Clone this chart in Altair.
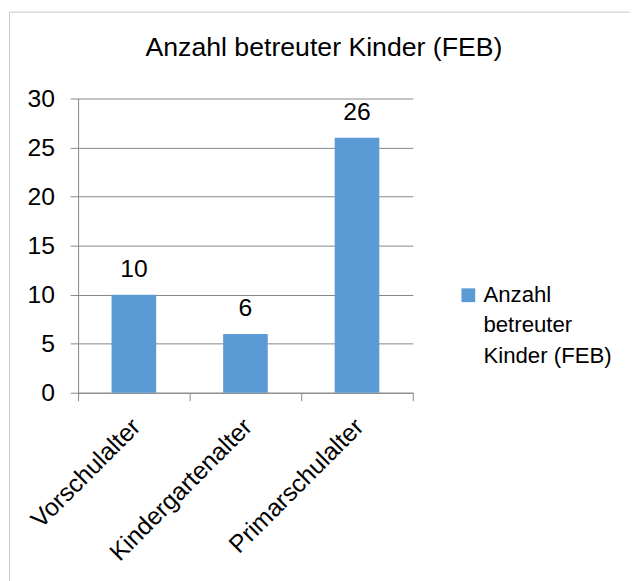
import altair as alt
import pandas as pd
import json

categories = ["Vorschulalter", "Kindergartenalter", "Primarschulalter"]
values = [10, 6, 26]
series_name = "Anzahl betreuter Kinder (FEB)"
legend_lines = ["Anzahl", "betreuter", "Kinder (FEB)"]
y_ticks = [0, 5, 10, 15, 20, 25, 30]

df = pd.DataFrame({"Kategorie": categories, "Wert": values, "Serie": [series_name] * len(categories)})

FONT = "Liberation Sans"
BLUE = "#5B9BD5"
GRAY = "#868686"

base = alt.Chart(df).encode(
    x=alt.X(
        "Kategorie:N",
        sort=categories,
        title=None,
        scale=alt.Scale(paddingInner=0, paddingOuter=0),
        axis=alt.Axis(
            labelAngle=315,
            labelAlign="right",
            labelBaseline="middle",
            labelPadding=22,
            labelOffset=2,
            labelLimit=400,
            tickBand="extent",
            tickSize=8,
            grid=False,
        ),
    ),
    y=alt.Y(
        "Wert:Q",
        title=None,
        scale=alt.Scale(domain=[0, 30], nice=False),
        axis=alt.Axis(values=y_ticks, tickSize=8, labelPadding=16, grid=True),
    ),
)

bars = base.mark_bar(color=BLUE, width=alt.RelativeBandSize(0.4)).encode(
    color=alt.Color(
        "Serie:N",
        scale=alt.Scale(range=[BLUE]),
        legend=alt.Legend(
            title=None,
            orient="none",
            legendX=384,
            legendY=188,
            padding=0,
            symbolType="square",
            symbolSize=196,
            symbolStrokeWidth=0,
            labelFont=FONT,
            labelFontSize=22.5,
            labelColor="#000000",
            labelOffset=4,
            labelBaseline="middle",
            labelLimit=300,
            labelExpr=json.dumps(legend_lines),
        ),
    )
)

labels = base.mark_text(
    baseline="alphabetic", dy=-18, font=FONT, fontSize=25, color="#000000"
).encode(text=alt.Text("Wert:Q"))

border = alt.Chart(alt.Data(values=[{"b": 1}])).mark_rect(
    fillOpacity=0, stroke="#c8c8c8", strokeWidth=1
).encode(
    x=alt.value(-69.5), x2=alt.value(600), y=alt.value(-87.5), y2=alt.value(520)
)

chart = (
    alt.layer(border, bars, labels)
    .properties(
        width=339,
        height=298,
        autosize=alt.AutoSizeParams(type="none"),
        padding={"left": 71, "top": 88, "right": 220, "bottom": 187},
        title=alt.TitleParams(
            series_name,
            font=FONT,
            fontSize=27,
            fontWeight="normal",
            color="#000000",
            anchor="middle",
            baseline="alphabetic",
            dx=79.5,
            offset=-72,
        ),
    )
    .configure(
        view=alt.ViewConfig(stroke=None),
        axis=alt.AxisConfig(
            labelFont=FONT,
            labelFontSize=25,
            labelColor="#000000",
            domainColor=GRAY,
            tickColor=GRAY,
            gridColor=GRAY,
            domainWidth=1,
            tickWidth=1,
            gridWidth=1,
        ),
        style={"guide-label": {"lineHeight": 30.7}},
    )
)

chart.save("out.html", embed_options={"renderer": "svg", "actions": False})
